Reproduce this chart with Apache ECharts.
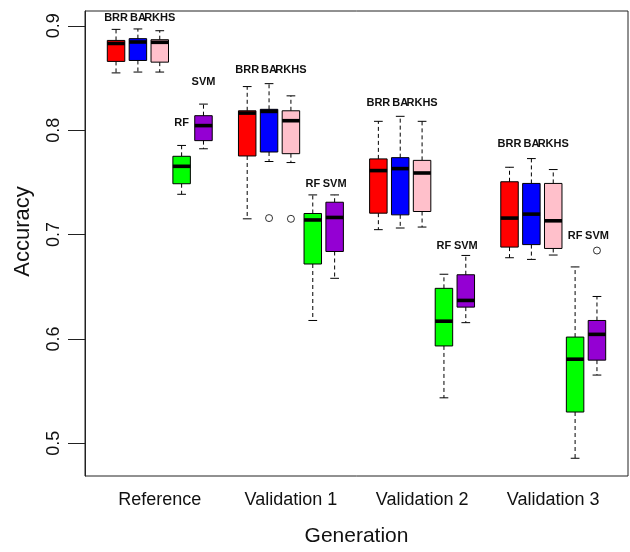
<!DOCTYPE html>
<html>
<head>
<meta charset="utf-8">
<script src="https://cdn.jsdelivr.net/npm/echarts@6/dist/echarts.min.js"></script>
<style>
  html, body { margin: 0; padding: 0; background: #fff; }
  #chart { width: 630px; height: 552px; }
</style>
</head>
<body>
<div id="chart"></div>
<script>
// ---- data ----
const groups = ['Reference', 'Validation 1', 'Validation 2', 'Validation 3'];
const methods = ['BRR', 'BA', 'RKHS', 'RF', 'SVM'];
// each row: [lower whisker, Q1, median, Q3, upper whisker] per group
const BRR = [
  [0.8549, 0.8659, 0.8831, 0.8860, 0.8966],
  [0.7151, 0.7753, 0.8164, 0.8186, 0.8418],
  [0.7047, 0.7205, 0.7613, 0.7725, 0.8085],
  [0.6778, 0.6880, 0.7158, 0.7506, 0.7645]
];
const BA = [
  [0.8557, 0.8668, 0.8845, 0.8877, 0.8970],
  [0.7700, 0.7791, 0.8180, 0.8200, 0.8446],
  [0.7063, 0.7189, 0.7632, 0.7737, 0.8133],
  [0.6762, 0.6904, 0.7196, 0.7490, 0.7728]
];
const RKHS = [
  [0.8557, 0.8652, 0.8842, 0.8867, 0.8953],
  [0.7690, 0.7775, 0.8091, 0.8186, 0.8329],
  [0.7072, 0.7221, 0.7590, 0.7711, 0.8085],
  [0.6804, 0.6867, 0.7132, 0.7490, 0.7623]
];
const RF = [
  [0.7386, 0.7487, 0.7654, 0.7750, 0.7854],
  [0.6177, 0.6718, 0.7140, 0.7202, 0.7380],
  [0.5436, 0.5933, 0.6170, 0.6485, 0.6620],
  [0.4857, 0.5300, 0.5806, 0.6018, 0.6690]
];
const SVM = [
  [0.7822, 0.7900, 0.8044, 0.8139, 0.8250],
  [0.6581, 0.6838, 0.7164, 0.7310, 0.7380],
  [0.6156, 0.6305, 0.6369, 0.6615, 0.6800],
  [0.5654, 0.5797, 0.6044, 0.6177, 0.6407]
];
// outliers: group index, method index, value
const outlierGroup = [1, 1, 3];
const outlierMethod = [1, 2, 4];
const outlierValue = [0.7158, 0.7151, 0.6847];
// annotation label heights (data units) per group
const topLabelY = [0.9073, 0.8573, 0.8264, 0.7869];
const rfLabelY = [0.8068, 0.7481, 0.6890, 0.6985];
const svmLabelY = [0.8466, 0.7481, 0.6890, 0.6985];
const yTicks = [0.5, 0.6, 0.7, 0.8, 0.9];

// ---- styles ----
const colors = ['#ff0000', '#0000ff', '#ffc0cb', '#00ff00', '#9400d3'];
const allStats = [BRR, BA, RKHS, RF, SVM];
const FONT = '"Liberation Sans", Arial, sans-serif';
const pos = (g, m) => g * 6 + m + 1;   // slot on the axis (gap between groups)
const groupCenter = g => g * 6 + 3;

function renderBox(color) {
  return function (params, api) {
    const x = api.value(0);
    const lo = api.coord([x, api.value(1)]);
    const q1 = api.coord([x, api.value(2)]);
    const md = api.coord([x, api.value(3)]);
    const q3 = api.coord([x, api.value(4)]);
    const hi = api.coord([x, api.value(5)]);
    const hw = api.size([0.4, 0])[0];
    const cw = api.size([0.2, 0])[0];
    const cx = q1[0];
    const dash = { stroke: '#000', lineWidth: 1, lineDash: [4, 3] };
    const solid = { stroke: '#000', lineWidth: 1 };
    return {
      type: 'group',
      children: [
        { type: 'line', shape: { x1: cx, y1: q3[1], x2: cx, y2: hi[1] }, style: dash },
        { type: 'line', shape: { x1: cx, y1: q1[1], x2: cx, y2: lo[1] }, style: dash },
        { type: 'line', shape: { x1: cx - cw, y1: hi[1], x2: cx + cw, y2: hi[1] }, style: solid },
        { type: 'line', shape: { x1: cx - cw, y1: lo[1], x2: cx + cw, y2: lo[1] }, style: solid },
        { type: 'rect', shape: { x: cx - hw, y: q3[1], width: 2 * hw, height: q1[1] - q3[1] },
          style: { fill: color, stroke: '#000', lineWidth: 1 } },
        { type: 'line', shape: { x1: cx - hw, y1: md[1], x2: cx + hw, y2: md[1] },
          style: { stroke: '#000', lineWidth: 3.6 } }
      ]
    };
  };
}

const series = methods.map((m, mi) => ({
  name: m,
  type: 'custom',
  renderItem: renderBox(colors[mi]),
  data: allStats[mi].map((s, gi) => [pos(gi, mi)].concat(s)),
  encode: { x: 0, y: [1, 2, 3, 4, 5] },
  z: 3
}));

series.push({
  type: 'scatter',
  data: outlierValue.map((v, i) => [pos(outlierGroup[i], outlierMethod[i]), v]),
  symbol: 'circle',
  symbolSize: 7,
  itemStyle: { color: '#fff', borderColor: '#000', borderWidth: 1 },
  z: 4
});

// annotation labels
const labelTexts = [];
const labelPts = [];
groups.forEach((g, gi) => {
  ['BRR', 'BA', 'RKHS'].forEach((t, k) => { labelTexts.push(t); labelPts.push([pos(gi, k), topLabelY[gi]]); });
  labelTexts.push('RF'); labelPts.push([pos(gi, 3), rfLabelY[gi]]);
  labelTexts.push('SVM'); labelPts.push([pos(gi, 4), svmLabelY[gi]]);
});
series.push({
  type: 'custom',
  data: labelPts,
  encode: { x: 0, y: 1 },
  z: 5,
  renderItem: function (params, api) {
    const p = api.coord([api.value(0), api.value(1)]);
    return {
      type: 'text', x: p[0], y: p[1],
      style: { text: labelTexts[params.dataIndex], align: 'center', verticalAlign: 'middle',
               font: 'bold 11px ' + FONT, fill: '#111' }
    };
  }
});

const chart = echarts.init(document.getElementById('chart'), null, { renderer: 'canvas' });
chart.setOption({
  animation: false,
  backgroundColor: '#fff',
  grid: { left: 85, right: 2, top: 11, bottom: 71, show: true, borderColor: '#222', borderWidth: 1, backgroundColor: 'transparent' },
  xAxis: {
    type: 'value', min: -0.42, max: 24.42,
    splitLine: { show: false },
    axisLine: { show: false, onZero: false },
    axisTick: { show: false },
    axisLabel: {
      customValues: groups.map((g, gi) => groupCenter(gi)),
      formatter: v => groups[Math.round((v - 3) / 6)],
      fontSize: 18, fontFamily: FONT, color: '#111', margin: 15
    },
    name: 'Generation', nameLocation: 'middle', nameGap: 50,
    nameTextStyle: { fontSize: 21, fontFamily: FONT, color: '#111' }
  },
  yAxis: {
    type: 'value', min: 0.4687, max: 0.9142,
    splitLine: { show: false },
    axisLine: { show: true, onZero: false, lineStyle: { color: '#222', width: 1 } },
    axisTick: { show: true, customValues: yTicks, length: 17, lineStyle: { color: '#222' } },
    axisLabel: {
      customValues: yTicks, rotate: 90, margin: 22,
      formatter: v => v.toFixed(1),
      fontSize: 18, fontFamily: FONT, color: '#111'
    },
    name: 'Accuracy', nameLocation: 'middle', nameGap: 51, nameRotate: 90,
    nameTextStyle: { fontSize: 22, fontFamily: FONT, color: '#111', padding: [0, 0, 0, 24] }
  },
  series: series
});
</script>
</body>
</html>
